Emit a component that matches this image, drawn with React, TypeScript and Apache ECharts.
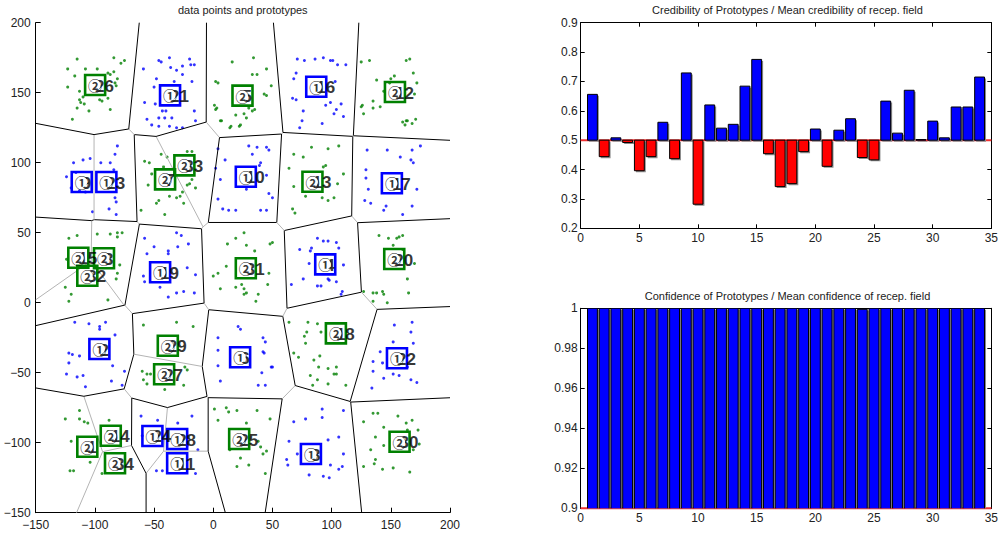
import React, { useEffect, useRef } from "react";
import * as echarts from "echarts";

// ---------- data ----------
// prototype positions (index + 1 = prototype number) and class (1 or 2)
const protoX = [-106.4, -96.2, -92.3, 94.6, 24.7, 22.7, -40.7, 82.5, -111.1, 27.5, -30.5, 153.5, 83.8, -86.6, -114, 87, 150.9, 103.6, -44.9, 152.9, -36.5, 155.2, -90.3, -51.4, 21.9, -99.8, -41.5, -30.5, -38.4, 157.4, 27.5, -106.4, -24.4, -83];
const protoY = [-102.9, -33.1, 31.7, 27.4, 147.9, -39, 88.1, -108.1, 86.2, 90, -114.7, 150.5, 86.4, -95, 32.1, 154.3, 85.3, -21.9, 21.7, 31.2, 148.1, -39.7, 86.2, -95.2, -97.4, 155.5, -51.1, -97.4, -30.7, -99.3, 24.6, 19.3, 98.1, -114.7];
const protoClass = [2, 1, 2, 1, 2, 1, 2, 1, 1, 1, 1, 2, 2, 2, 2, 1, 1, 2, 1, 2, 1, 1, 1, 1, 2, 2, 2, 1, 2, 2, 2, 2, 2, 2];

// class 1 data points (blue), grouped by cluster
const blueB = [[-46,173],[-44,172],[-36,168],[-31,166],[-26,169],[-20,174],[-19,170],[-16,170],[-26,163],[-59,167],[-48,160],[-50,154],[-18,158],[-33,158],[-58,143],[-49,142],[-43,137],[-40,137],[-35,132],[-41,132],[-46,132],[-16,137],[-15,130],[-56,131],[-52,127],[-46,126],[-37,126],[-31,125],[-26,125],[-37,175]];
const blueD = [[71,174],[77,173],[86,174],[93,175],[99,173],[101,173],[105,170],[112,170],[70,164],[68,160],[103,158],[67,146],[70,145],[76,137],[75,130],[73,125],[92,128],[95,141],[99,143],[104,138],[102,135],[108,142],[110,133]];
const blueF = [[-81,112],[-83,106],[-104,103],[-110,102],[-118,100],[-87,100],[-95,100],[-124,90],[-113,80],[-83,75],[-82,72],[-88,67],[-82,63],[-102,65],[-120,82],[-116,93],[-108,79],[-84,95]];
const blueH = [[30,112],[37,111],[45,111],[47,109],[4,110],[6,88],[4,74],[8,67],[13,66],[19,66],[28,81],[40,66],[45,66],[47,78],[50,75],[33,106],[40,100],[39,98],[45,91],[2,96],[10,102]];
const blueJ = [[130,109],[147,109],[158,104],[168,109],[175,112],[167,102],[169,100],[129,95],[129,89],[172,81],[131,81],[128,73],[133,71],[144,66],[146,69],[160,63],[168,69]];
const blueL = [[-58,46],[-50,40],[-56,35],[-31,50],[-27,48],[-30,40],[-38,37],[-38,35],[-21,42],[-22,25],[-15,20],[-59,19],[-58,15],[-45,11],[-38,4],[-31,7],[-25,8],[-16,7]];
const blueN = [[73,38],[83,39],[88,46],[93,44],[97,44],[104,43],[106,39],[82,37],[81,28],[110,27],[76,17],[66,13],[88,12],[91,12],[97,17],[98,16],[104,15],[109,8],[108,6]];
const blueP = [[-117,-14],[-105,-15],[-96,-17],[-96,-19],[-91,-14],[-83,-23],[-122,-36],[-119,-37],[-113,-38],[-122,-43],[-124,-51],[-115,-53],[-110,-52],[-108,-60],[-85,-45],[-86,-56],[-77,-59],[-75,-49]];
const blueR = [[4,-34],[4,-45],[6,-56],[43,-36],[49,-46],[41,-50],[38,-59],[44,-59],[50,-46],[4,-25],[21,-17],[23,-19],[42,-25],[44,-28],[42,-35]];
const blueT = [[168,-14],[153,-16],[167,-21],[135,-42],[135,-49],[143,-43],[144,-54],[134,-61],[152,-51],[157,-52],[164,-46],[167,-55],[172,-57],[152,-28],[169,-29],[141,-35]];
const blueV = [[-61,-81],[-47,-84],[-30,-86],[-18,-81],[-13,-105],[-48,-120],[-43,-120],[-15,-122],[-22,-102],[-60,-95]];
const blueX = [[92,-76],[110,-77],[68,-85],[78,-83],[92,-82],[97,-98],[106,-96],[64,-99],[62,-112],[63,-116],[71,-108],[110,-108],[109,-117],[106,-119],[99,-116],[81,-123],[93,-124],[98,-125]];

// class 2 data points (green), grouped by cluster
const greenA = [[-115,174],[-123,167],[-108,167],[-84,175],[-78,171],[-75,173],[-84,165],[-81,160],[-83,157],[-87,163],[-117,162],[-123,154],[-112,143],[-109,142],[-115,139],[-105,137],[-119,131],[-87,138],[-96,145],[-94,144],[-113,151],[-82,155],[-89,164],[-89,146],[-110,147],[-113,145],[-98,167]];
const greenC = [[34,175],[33,163],[37,163],[45,167],[49,155],[43,149],[45,148],[35,138],[28,132],[16,172],[2,158],[4,157],[1,141],[2,138],[7,130],[14,125],[23,127],[26,135],[19,134],[22,126],[6,130],[15,126],[30,139],[33,137],[3,139]];
const greenE = [[125,172],[132,173],[163,173],[166,174],[169,164],[153,162],[138,159],[150,160],[149,157],[172,157],[144,151],[170,149],[135,144],[126,141],[125,140],[135,139],[141,140],[127,135],[160,129],[163,130],[164,130],[162,127],[168,128],[171,131]];
const greenG = [[-58,101],[-54,100],[-44,106],[-39,104],[-22,108],[-18,108],[-42,97],[-20,85],[-22,84],[-55,84],[-61,66],[-48,71],[-41,63],[-37,76],[-28,76],[-25,71],[-18,88],[-26,79],[-15,82],[-46,73],[-31,75],[-52,92]];
const greenI = [[83,111],[97,110],[106,112],[68,106],[76,104],[95,98],[93,97],[68,83],[67,67],[69,64],[78,76],[92,75],[97,73],[102,75],[105,85],[110,92],[64,96]];
const greenK = [[-122,46],[-115,48],[-98,49],[-87,49],[-81,50],[-77,50],[-81,47],[-124,31],[-79,27],[-81,21],[-82,17],[-125,11],[-120,6],[-122,1],[-89,2]];
const greenM = [[12,42],[19,46],[26,50],[35,37],[48,42],[50,43],[0,19],[4,21],[11,26],[6,10],[19,11],[24,13],[26,10],[28,7],[38,6],[36,1],[46,13],[47,21],[28,41],[26,6]];
const greenO = [[140,48],[148,46],[155,46],[160,48],[157,47],[152,41],[160,38],[170,28],[164,17],[135,7],[138,7],[143,8],[144,6],[135,1],[147,0],[165,7],[127,8]];
const greenQ = [[-59,-16],[-31,-14],[-17,-17],[-60,-49],[-56,-51],[-53,-51],[-59,-55],[-56,-58],[-24,-46],[-22,-48],[-25,-59],[-41,-62]];
const greenS = [[64,-14],[80,-14],[79,-21],[77,-24],[91,-21],[78,-29],[88,-15],[68,-36],[72,-39],[90,-38],[85,-41],[89,-46],[97,-47],[104,-46],[102,-51],[104,-51],[82,-52],[88,-55],[97,-58],[84,-59],[112,-59]];
const greenU = [[-125,-83],[-113,-77],[-113,-83],[-109,-85],[-106,-86],[-120,-99],[-88,-84],[-104,-114],[-121,-120],[-118,-120],[-94,-122],[-89,-92]];
const greenW = [[1,-76],[4,-84],[11,-75],[13,-78],[20,-77],[37,-77],[28,-86],[48,-83],[38,-99],[40,-103],[45,-106],[42,-108],[14,-105],[20,-117],[23,-111],[30,-116],[44,-122]];
const greenY = [[135,-79],[139,-79],[127,-85],[156,-81],[163,-86],[168,-84],[173,-91],[144,-89],[137,-96],[133,-105],[144,-102],[137,-112],[136,-115],[127,-117],[143,-119],[152,-118],[166,-121],[169,-105],[174,-101],[164,-91]];

// credibility / confidence ratios per prototype (1..34)
const credibility = [0.656, 0.444, 0.508, 0.492, 0.396, 0.444, 0.561, 0.437, 0.729, 0.282, 0.62, 0.541, 0.554, 0.684, 0.775, 0.454, 0.342, 0.352, 0.461, 0.538, 0.411, 0.534, 0.573, 0.441, 0.433, 0.633, 0.524, 0.67, 0.502, 0.565, 0.508, 0.613, 0.613, 0.715];
const confidence = [1, 1, 1, 1, 1, 1, 1, 1, 1, 1, 1, 1, 1, 1, 1, 1, 1, 1, 1, 1, 1, 1, 1, 0.9995, 1, 1, 1, 1, 1, 1, 1, 1, 1, 1];
const credBase = 0.5;
const confBase = 0;

// axis ranges
const mapMin = -150;
const mapMax = 200;

// ---------- helpers ----------
const BLUE = "#0000ff";
const GREEN = "#008000";
const FONT = "'Liberation Sans', Arial, Helvetica, sans-serif";

type Pt = [number, number];
type Vtx = { p: Pt; t: number };

// Voronoi edges of the prototypes inside the box, by half-plane clipping.
function voronoiSegments(xs: number[], ys: number[], cls: number[], lo: number, hi: number) {
  const segs: number[][] = [];
  const n = xs.length;
  for (let i = 0; i < n; i++) {
    let poly: Vtx[] = [
      { p: [lo, lo], t: -1 },
      { p: [hi, lo], t: -1 },
      { p: [hi, hi], t: -1 },
      { p: [lo, hi], t: -1 },
    ];
    for (let j = 0; j < n; j++) {
      if (j === i || poly.length === 0) continue;
      const dx = xs[j] - xs[i];
      const dy = ys[j] - ys[i];
      const mx = (xs[i] + xs[j]) / 2;
      const my = (ys[i] + ys[j]) / 2;
      const side = (q: Pt) => (q[0] - mx) * dx + (q[1] - my) * dy;
      const out: Vtx[] = [];
      for (let k = 0; k < poly.length; k++) {
        const a = poly[k];
        const b = poly[(k + 1) % poly.length];
        const sa = side(a.p);
        const sb = side(b.p);
        const ina = sa <= 0;
        const inb = sb <= 0;
        if (ina) out.push(a);
        if (ina !== inb) {
          const t = sa / (sa - sb);
          const ip: Pt = [a.p[0] + t * (b.p[0] - a.p[0]), a.p[1] + t * (b.p[1] - a.p[1])];
          out.push({ p: ip, t: ina ? j : a.t });
        }
      }
      poly = out;
    }
    for (let k = 0; k < poly.length; k++) {
      const a = poly[k];
      const b = poly[(k + 1) % poly.length];
      if (a.t > i) {
        const len = Math.hypot(b.p[0] - a.p[0], b.p[1] - a.p[1]);
        if (len > 1e-6) segs.push([a.p[0], a.p[1], b.p[0], b.p[1], cls[i] === cls[a.t] ? 1 : 0]);
      }
    }
  }
  return segs;
}

const minusFmt = (v: number) => String(v).replace("-", "\u2212");
const decFmt = (v: number) => String(+(+v).toFixed(2));

const BAR_W = 0.84;

function barRenderer(color: (v: number) => string) {
  return (params: any, api: any) => {
    const x = api.value(0);
    const v = api.value(1);
    const b = api.value(2);
    const cs = params.coordSys;
    const p0 = api.coord([x - BAR_W / 2, v]);
    const p1 = api.coord([x + BAR_W / 2, b]);
    const clampY = (y: number) => Math.max(cs.y - 2, Math.min(cs.y + cs.height + 2, y));
    const y0 = clampY(Math.min(p0[1], p1[1]));
    const y1 = clampY(Math.max(p0[1], p1[1]));
    const rx = p0[0];
    const rw = p1[0] - p0[0];
    return {
      type: "group",
      children: [
        { type: "rect", shape: { x: rx + 1.5, y: y0 + 1.5, width: rw, height: y1 - y0 }, style: { fill: "#8c8c8c" } },
        { type: "rect", shape: { x: rx, y: y0, width: rw, height: y1 - y0 }, style: { fill: color(v), stroke: "#000", lineWidth: 1 } },
      ],
    };
  };
}

export default function App() {
  const ref = useRef<HTMLDivElement>(null);

  useEffect(() => {
    if (!ref.current) return;
    const chart = echarts.init(ref.current, undefined, { renderer: "svg" });

    const segs = voronoiSegments(protoX, protoY, protoClass, mapMin, mapMax);
    const blue = [...blueB, ...blueD, ...blueF, ...blueH, ...blueJ, ...blueL, ...blueN, ...blueP, ...blueR, ...blueT, ...blueV, ...blueX];
    const green = [...greenA, ...greenC, ...greenE, ...greenG, ...greenI, ...greenK, ...greenM, ...greenO, ...greenQ, ...greenS, ...greenU, ...greenW, ...greenY];
    const protos = protoX.map((x, i) => [x, protoY[i], protoClass[i], i + 1]);
    const credData = credibility.map((v, i) => [i + 1, v, credBase]);
    const confData = confidence.map((v, i) => [i + 1, v, confBase]);

    const axisLabel = { color: "#222", fontSize: 12, fontFamily: FONT };
    const tickIn = (len: number) => ({ show: true, inside: true, length: len, lineStyle: { color: "#000", width: 1 } });
    const blackLine = { show: true, onZero: false, lineStyle: { color: "#000", width: 1 } };

    const boxAxis = (gridIndex: number, position: string, min: number, max: number, interval: number) => ({
      gridIndex,
      type: "value",
      position,
      min,
      max,
      interval,
      axisLine: blackLine,
      axisTick: tickIn(4),
      axisLabel: { show: false },
      splitLine: { show: false },
    });

    const option: any = {
      animation: false,
      backgroundColor: "#fff",
      graphic: [
        { type: "text", x: 242.8, y: 9.5, style: { text: "data points and prototypes", align: "center", verticalAlign: "middle", fontSize: 11, fontFamily: FONT, fill: "#222" } },
        { type: "text", x: 787.5, y: 9.5, style: { text: "Credibility of Prototypes / Mean credibility of recep. field", align: "center", verticalAlign: "middle", fontSize: 11, fontFamily: FONT, fill: "#222" } },
        { type: "text", x: 787.5, y: 295.5, style: { text: "Confidence of Prototypes / Mean confidence of recep. field", align: "center", verticalAlign: "middle", fontSize: 11, fontFamily: FONT, fill: "#222" } },
      ],
      grid: [
        { left: 35.7, top: 22.7, width: 414.3, height: 490, show: false },
        { left: 580.7, top: 22.7, width: 413.6, height: 205.6, show: false },
        { left: 580.7, top: 308.3, width: 413.6, height: 200, show: false },
      ],
      xAxis: [
        {
          gridIndex: 0, type: "value", min: mapMin, max: mapMax, interval: 50, position: "bottom",
          axisLine: blackLine, axisTick: tickIn(5), splitLine: { show: false },
          axisLabel: { ...axisLabel, margin: 6, formatter: minusFmt },
        },
        {
          gridIndex: 1, type: "value", min: 0, max: 35, interval: 5, position: "bottom",
          axisLine: blackLine, axisTick: tickIn(4), splitLine: { show: false },
          axisLabel: { ...axisLabel, margin: 4 },
        },
        boxAxis(1, "top", 0, 35, 5),
        {
          gridIndex: 2, type: "value", min: 0, max: 35, interval: 5, position: "bottom",
          axisLine: blackLine, axisTick: tickIn(4), splitLine: { show: false },
          axisLabel: { ...axisLabel, margin: 4 },
        },
        boxAxis(2, "top", 0, 35, 5),
      ],
      yAxis: [
        {
          gridIndex: 0, type: "value", min: mapMin, max: mapMax, interval: 50, position: "left",
          axisLine: blackLine, axisTick: tickIn(5), splitLine: { show: false },
          axisLabel: { ...axisLabel, margin: 5, formatter: minusFmt },
        },
        {
          gridIndex: 1, type: "value", min: 0.2, max: 0.9, interval: 0.1, position: "left",
          axisLine: blackLine, axisTick: tickIn(4), splitLine: { show: false },
          axisLabel: { ...axisLabel, margin: 3, formatter: decFmt },
        },
        boxAxis(1, "right", 0.2, 0.9, 0.1),
        {
          gridIndex: 2, type: "value", min: 0.9, max: 1, interval: 0.02, position: "left",
          axisLine: blackLine, axisTick: tickIn(4), splitLine: { show: false },
          axisLabel: { ...axisLabel, margin: 3, formatter: decFmt },
        },
        boxAxis(2, "right", 0.9, 1, 0.02),
      ],
      series: [
        // data points
        {
          type: "scatter", xAxisIndex: 0, yAxisIndex: 0, data: blue, symbol: "circle", symbolSize: 3,
          itemStyle: { color: BLUE }, z: 2,
        },
        {
          type: "scatter", xAxisIndex: 0, yAxisIndex: 0, data: green, symbol: "circle", symbolSize: 3,
          itemStyle: { color: GREEN }, z: 2,
        },
        // Voronoi edges (black between classes, grey within a class)
        {
          type: "custom", xAxisIndex: 0, yAxisIndex: 0, data: segs, z: 3,
          encode: { x: [0, 2], y: [1, 3] },
          renderItem: (params: any, api: any) => {
            const a = api.coord([api.value(0), api.value(1)]);
            const b = api.coord([api.value(2), api.value(3)]);
            const same = api.value(4) === 1;
            return {
              type: "line",
              shape: { x1: a[0], y1: a[1], x2: b[0], y2: b[1] },
              style: { stroke: same ? "#b4b4b4" : "#000", lineWidth: 1 },
            };
          },
        },
        // prototype squares
        {
          type: "scatter", xAxisIndex: 0, yAxisIndex: 0, z: 4,
          data: protos.filter((p) => p[2] === 1),
          symbol: "rect", symbolSize: 20,
          itemStyle: { color: "rgba(0,0,0,0)", borderColor: BLUE, borderWidth: 2.6, opacity: 1 },
        },
        {
          type: "scatter", xAxisIndex: 0, yAxisIndex: 0, z: 4,
          data: protos.filter((p) => p[2] === 2),
          symbol: "rect", symbolSize: 20,
          itemStyle: { color: "rgba(0,0,0,0)", borderColor: GREEN, borderWidth: 2.6, opacity: 1 },
        },
        // prototype numbers
        {
          type: "scatter", xAxisIndex: 0, yAxisIndex: 0, z: 5, data: protos,
          symbol: "circle", symbolSize: 0.1, itemStyle: { color: "rgba(0,0,0,0)" },
          label: {
            show: true, position: "inside", align: "left", verticalAlign: "middle", offset: [0, 1],
            formatter: (p: any) => String(p.value[3]),
            fontSize: 17, fontWeight: "bold", fontFamily: FONT, color: "#000",
          },
        },
        // white disc under the class marker
        {
          type: "scatter", xAxisIndex: 0, yAxisIndex: 0, z: 6, data: protos,
          symbol: "circle", symbolSize: 11, itemStyle: { color: "#fff", opacity: 1 },
        },
        // class markers
        {
          type: "scatter", xAxisIndex: 0, yAxisIndex: 0, z: 7, data: protos,
          symbol: "circle", symbolSize: 0.1, itemStyle: { color: "rgba(0,0,0,0)" },
          label: {
            show: true, position: "inside", align: "center", verticalAlign: "middle", offset: [0, 0],
            formatter: (p: any) => (p.value[2] === 1 ? "\u2460" : "\u2461"),
            fontSize: 14, fontWeight: "bold", fontFamily: "'Noto Sans CJK JP', 'DejaVu Sans', sans-serif", color: "#000",
          },
        },
        // mean reference lines
        {
          type: "line", xAxisIndex: 1, yAxisIndex: 1, z: 1, data: [[0, credBase], [35, credBase]],
          symbol: "none", lineStyle: { color: "#f03030", width: 2 }, silent: true,
        },
        {
          type: "custom", xAxisIndex: 1, yAxisIndex: 1, z: 2, data: credData, clip: true,
          encode: { x: 0, y: 1 },
          renderItem: barRenderer((v) => (v >= credBase ? BLUE : "#ff0000")),
        },
        {
          type: "line", xAxisIndex: 3, yAxisIndex: 3, z: 1, data: [[0, 0.9], [35, 0.9]],
          symbol: "none", lineStyle: { color: "#f03030", width: 2 }, silent: true, clip: false,
        },
        {
          type: "custom", xAxisIndex: 3, yAxisIndex: 3, z: 2, data: confData, clip: true,
          encode: { x: 0, y: 1 },
          renderItem: barRenderer(() => BLUE),
        },
      ],
    };

    chart.setOption(option);
    return () => chart.dispose();
  }, []);

  return (
    <div
      ref={ref}
      style={{ position: "fixed", left: 0, top: 0, width: 1001, height: 533, background: "#fff" }}
    />
  );
}
